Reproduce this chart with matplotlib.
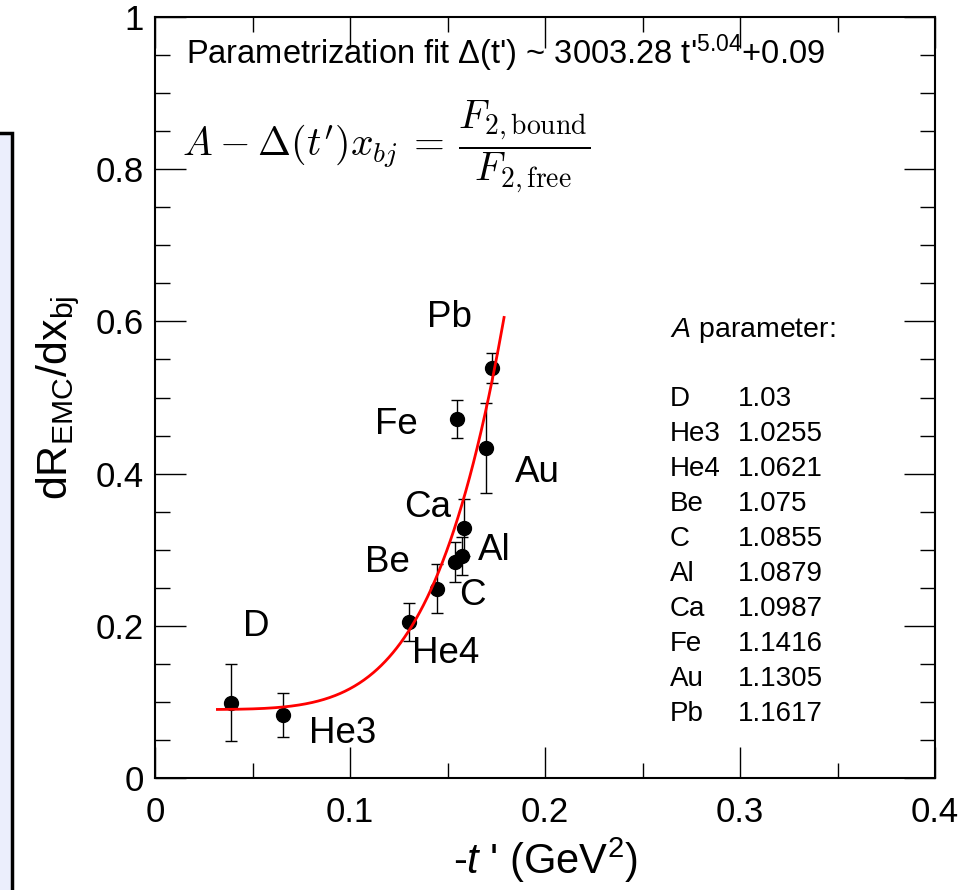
import matplotlib
matplotlib.use("Agg")
import matplotlib.pyplot as plt
from matplotlib.patches import Rectangle
from matplotlib.ticker import MultipleLocator
import numpy as np

plt.rcParams['font.family'] = ['Liberation Sans', 'DejaVu Sans']
plt.rcParams['mathtext.fontset'] = 'custom'
plt.rcParams['mathtext.rm'] = 'Liberation Sans'
plt.rcParams['mathtext.it'] = 'Liberation Sans:italic'
plt.rcParams['mathtext.bf'] = 'Liberation Sans:bold'

# data
nuclei = ["D", "He3", "He4", "Be", "C", "Al", "Ca", "Fe", "Au", "Pb"]
t_prime = [0.039, 0.0656, 0.130, 0.1446, 0.1539, 0.1575, 0.1585, 0.1549, 0.1697, 0.1728]
slope = [0.099, 0.083, 0.205, 0.249, 0.284, 0.292, 0.329, 0.472, 0.434, 0.539]
slope_err = [0.051, 0.029, 0.025, 0.032, 0.026, 0.025, 0.037, 0.025, 0.059, 0.020]
a_param = ["1.03", "1.0255", "1.0621", "1.075", "1.0855", "1.0879", "1.0987", "1.1416", "1.1305", "1.1617"]

# label positions next to the points (data coords)
label_pos = {
    "D": (0.052, 0.199), "He3": (0.096, 0.059), "He4": (0.149, 0.163),
    "Be": (0.119, 0.283), "C": (0.163, 0.240), "Al": (0.174, 0.299),
    "Ca": (0.140, 0.356), "Fe": (0.124, 0.464), "Au": (0.196, 0.401),
    "Pb": (0.151, 0.605),
}

fit_a, fit_b, fit_c = 3003.28, 5.04, 0.09


def main():
    fig = plt.figure(figsize=(9.68, 8.90), dpi=100)

    # light blue panel peeking in at the left edge
    fig.patches.append(Rectangle((-0.02, -0.02), 0.02 + 12 / 968, 0.02 + (890 - 133) / 890,
                                 transform=fig.transFigure, facecolor="#ebeefc",
                                 edgecolor="black", lw=2.5, zorder=0))

    ax = fig.add_axes([155 / 968, 112 / 890, 780 / 968, 761 / 890])

    ax.errorbar(t_prime, slope, yerr=slope_err, fmt="o", color="black",
                ms=10, elinewidth=1, capsize=4, capthick=1, zorder=3)

    tt = np.linspace(0.032, 0.179, 300)
    ax.plot(tt, fit_a * tt ** fit_b + fit_c, color="red", lw=2, zorder=4)

    for name in nuclei:
        x, y = label_pos[name]
        ax.text(x, y, name, fontsize=26.5, ha="center", va="center")

    ax.text(0.016, 0.953, "Parametrization fit Δ(t') ~ 3003.28 t'$^{5.04}$+0.09",
            fontsize=23.5, ha="left", va="center")
    ax.text(0.014, 0.83,
            r"$A \:-\: \Delta(t')x_{bj} \:=\: \dfrac{F_{2,\mathrm{bound}}}{F_{2,\mathrm{free}}}$",
            fontsize=28.5, ha="left", va="center", math_fontfamily="cm")

    # A-parameter table
    ax.text(0.264, 0.588, "$\\it{A}$ parameter:", fontsize=20.5, ha="left", va="center")
    for i, (name, val) in enumerate(zip(nuclei, a_param)):
        y = 0.498 - i * 0.046
        ax.text(0.264, y, name, fontsize=20, ha="left", va="center")
        ax.text(0.299, y, val, fontsize=20, ha="left", va="center")

    ax.set_xlim(0, 0.4)
    ax.set_ylim(0, 1)
    ax.xaxis.set_major_locator(MultipleLocator(0.1))
    ax.xaxis.set_minor_locator(MultipleLocator(0.05))
    ax.yaxis.set_major_locator(MultipleLocator(0.2))
    ax.yaxis.set_minor_locator(MultipleLocator(0.05))
    ax.xaxis.set_major_formatter(lambda v, p: "0" if v == 0 else f"{v:g}")
    ax.yaxis.set_major_formatter(lambda v, p: "0" if v == 0 else f"{v:g}")
    ax.tick_params(which="both", direction="in", top=True, right=True, width=1)
    ax.tick_params(which="major", length=22, labelsize=25)
    ax.tick_params(axis="x", which="major", pad=13)
    ax.tick_params(axis="y", which="major", pad=8)
    ax.tick_params(which="minor", length=11)
    for sp in ax.spines.values():
        sp.set_linewidth(1.5)

    ax.set_xlabel("-$\\it{t}$ ' (GeV$^2$)", fontsize=30, labelpad=5)
    ax.set_ylabel("dR$_{\\rm EMC}$/dx$_{\\rm bj}$", fontsize=31, labelpad=10)

    fig.savefig("out.png", dpi=100)


if __name__ == "__main__":
    main()
